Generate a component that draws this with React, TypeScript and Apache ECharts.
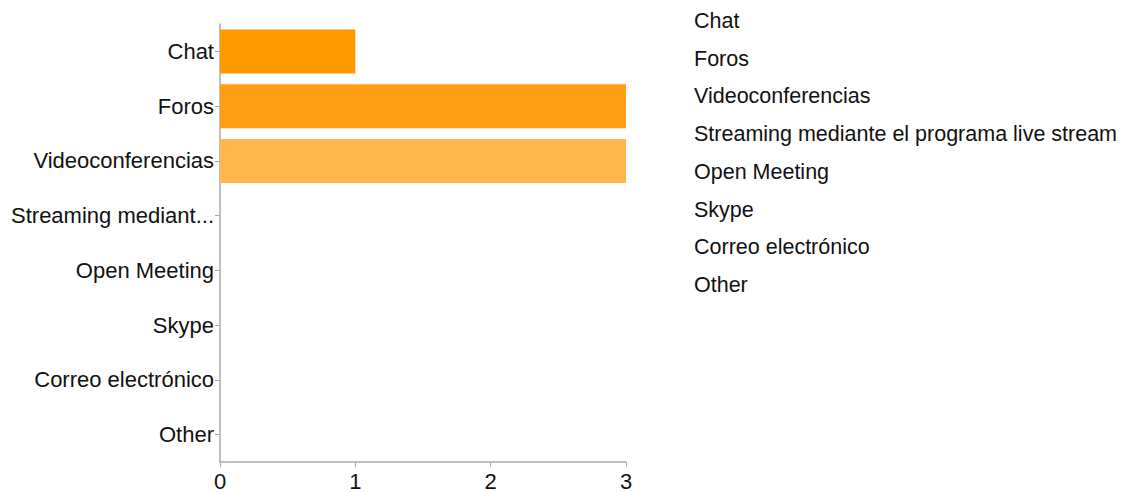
import React, { useEffect, useRef } from "react";
import * as echarts from "echarts";

const categories = [
  "Chat",
  "Foros",
  "Videoconferencias",
  "Streaming mediante el programa live stream",
  "Open Meeting",
  "Skype",
  "Correo electrónico",
  "Other",
];
const values = [1, 3, 3, 0, 0, 0, 0, 0];
const barColors = ["#FF9900", "#FF9D14", "#FFB74D", "#FFB74D", "#FFB74D", "#FFB74D", "#FFB74D", "#FFB74D"];
const xTicks = [0, 1, 2, 3];

const FONT = "'Liberation Sans', Arial, sans-serif";

export default function App() {
  const ref = useRef<HTMLDivElement>(null);
  useEffect(() => {
    if (!ref.current) return;
    const chart = echarts.init(ref.current, undefined, { renderer: "svg" });
    const legendTexts = categories.map((c, i) => ({
      type: "text",
      left: 694,
      top: 10 + i * 37.7,
      style: { text: c, fill: "#111", font: `21.5px ${FONT}` },
    }));
    chart.setOption({
      animation: false,
      backgroundColor: "#ffffff",
      textStyle: { fontFamily: FONT },
      grid: { left: 220, right: 512, top: 24, bottom: 29, containLabel: false },
      xAxis: {
        type: "value",
        min: xTicks[0],
        max: xTicks[xTicks.length - 1],
        interval: 1,
        axisLine: { show: true, lineStyle: { color: "#aaaaaa", width: 1.5 } },
        axisTick: { show: true, length: 5, lineStyle: { color: "#aaaaaa" } },
        splitLine: { show: false },
        axisLabel: { color: "#111", fontSize: 22, margin: 8, fontFamily: FONT },
      },
      yAxis: {
        type: "category",
        data: categories,
        inverse: true,
        axisLine: { show: true, lineStyle: { color: "#aaaaaa", width: 1.5 } },
        axisTick: { show: true, length: 5, alignWithLabel: true, lineStyle: { color: "#aaaaaa" } },
        axisLabel: {
          color: "#111",
          fontSize: 22,
          margin: 6,
          fontFamily: FONT,
          width: 212,
          overflow: "truncate",
          ellipsis: "...",
        },
      },
      series: [
        {
          type: "bar",
          barWidth: 44,
          data: values.map((v, i) => ({ value: v, itemStyle: { color: barColors[i] } })),
        },
      ],
      graphic: legendTexts,
    });
    return () => chart.dispose();
  }, []);
  return (
    <div
      ref={ref}
      style={{ position: "fixed", left: 0, top: 0, width: 1138, height: 492, background: "#fff" }}
    />
  );
}
